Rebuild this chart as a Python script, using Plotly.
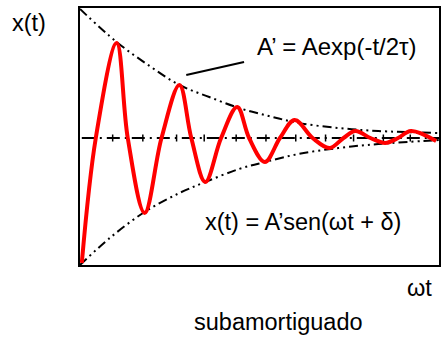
import plotly.graph_objects as go

# Damped (underdamped) oscillation, time axis in units of ωt, displacement normalised
curve_t = [0.05, 0.44, 1.02, 1.33, 1.80, 2.27, 2.77, 3.10, 3.49, 3.93, 4.38, 4.71,
           5.15, 5.57, 5.98, 6.48, 6.95, 7.34, 7.67, 8.09, 8.50, 8.86, 9.22, 9.92]
curve_x = [-1.25, 0.0, 0.95, 0.0, -0.75, 0.0, 0.53, 0.0, -0.44, 0.0, 0.31, 0.0,
           -0.24, 0.0, 0.18, 0.0, -0.10, 0.0, 0.07, 0.0, -0.05, 0.0, 0.07, -0.03]

# Exponential envelope A' = A exp(-t/2τ), upper and lower branches
env_t_upper = [0.0, 1.02, 1.94, 2.77, 3.60, 4.43, 5.26, 6.09, 7.20, 8.31, 10.0]
env_upper = [1.29, 0.96, 0.72, 0.53, 0.41, 0.30, 0.22, 0.15, 0.10, 0.07, 0.05]
env_t_lower = [0.0, 0.83, 1.80, 2.77, 3.49, 4.43, 5.15, 6.09, 7.20, 8.31, 10.0]
env_lower = [-1.27, -1.00, -0.74, -0.55, -0.44, -0.31, -0.24, -0.16, -0.10, -0.06, -0.02]

# Equilibrium line and its small tick marks
axis_t = [0.05, 10.0]
axis_x = [0.0, 0.0]
tick_t = [0.91, 1.75, 2.69, 3.46, 4.35, 5.18, 6.01, 6.84, 7.62, 8.45, 9.20]

FONT = "Liberation Sans, Arial, sans-serif"
DASH_DOT_DOT = "9px,4px,2px,4px,2px,4px"

fig = go.Figure()

fig.add_trace(go.Scatter(x=axis_t, y=axis_x, mode="lines",
                         line=dict(color="black", width=2, dash="13px,5px,2px,5px"),
                         hoverinfo="skip"))
fig.add_trace(go.Scatter(x=tick_t, y=[0.0] * len(tick_t), mode="markers",
                         marker=dict(symbol="line-ns", size=5,
                                     line=dict(color="black", width=1.5)),
                         hoverinfo="skip"))
fig.add_trace(go.Scatter(x=env_t_upper, y=env_upper, mode="lines",
                         line=dict(color="black", width=2, dash=DASH_DOT_DOT, shape="spline"),
                         hoverinfo="skip"))
fig.add_trace(go.Scatter(x=env_t_lower, y=env_lower, mode="lines",
                         line=dict(color="black", width=2, dash=DASH_DOT_DOT, shape="spline"),
                         hoverinfo="skip"))
fig.add_trace(go.Scatter(x=curve_t, y=curve_x, mode="lines",
                         line=dict(color="#ff0000", width=4, shape="spline", smoothing=1.0),
                         hoverinfo="skip"))

# Leader line pointing at the envelope
fig.add_shape(type="line", x0=2.96, y0=0.63, x1=4.57, y1=0.76,
              line=dict(color="black", width=2))


def label(text, x, y, size=23.5, paper=False):
    kw = dict(xref="paper", yref="paper") if paper else {}
    fig.add_annotation(x=x, y=y, text=text, showarrow=False,
                       xanchor="center", yanchor="middle",
                       font=dict(family=FONT, size=size, color="black"), **kw)


label("A’ = Aexp(-t/2τ)", 7.17, 0.92, size=24)
label("x(t) = A’sen(ωt + δ)", 6.2, -0.84)
label("x(t)", -0.141, 0.942, paper=True)
label("ωt", 0.945, -0.089, paper=True)
label("subamortiguado", 0.554, -0.222, paper=True)

axis_style = dict(showline=True, mirror=True, linecolor="black", linewidth=2,
                  showgrid=False, zeroline=False, showticklabels=False, ticks="",
                  fixedrange=True)
fig.update_xaxes(range=[0, 10], **axis_style)
fig.update_yaxes(range=[-1.27, 1.30], **axis_style)

fig.update_layout(width=443, height=337, showlegend=False,
                  margin=dict(l=80, r=2, t=8, b=72),
                  plot_bgcolor="white", paper_bgcolor="white")

fig.write_html("out.html", config={"displayModeBar": False})
